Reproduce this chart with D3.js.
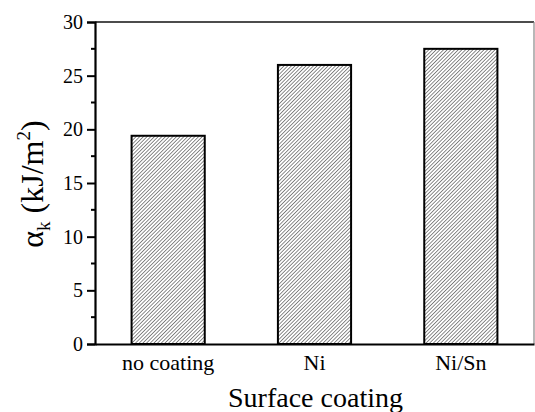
<!DOCTYPE html>
<html>
<head>
<meta charset="utf-8">
<script src="https://cdn.jsdelivr.net/npm/d3@7"></script>
<style>
body { margin: 0; background: #fff; }
svg { display: block; }
svg text { font-family: "Liberation Serif", "Times New Roman", serif; fill: #000; }
</style>
</head>
<body>
<div class="container"></div>
<script>
const categories = ['no coating', 'Ni', 'Ni/Sn'];
const values = [19.4, 26.0, 27.5];
const yTicks = [0, 5, 10, 15, 20, 25, 30];
const yMinor = [2.5, 7.5, 12.5, 17.5, 22.5, 27.5];

const width = 535, height = 412;
const margin = {left: 95, right: 1, top: 22, bottom: 68};

const sx = d3.scaleBand().domain(categories)
	.range([margin.left, width - margin.right])
	.paddingInner(0.5).paddingOuter(0.25);
const sy = d3.scaleLinear().domain([0, 30]).range([height - margin.bottom, margin.top]);

const svg = d3.select('.container').append('svg')
	.attr('width', width).attr('height', height)
	.attr('viewBox', [0, 0, width, height]);

// hatch fill, fine diagonal lines
const pat = svg.append('defs').append('pattern')
	.attr('id', 'hatch')
	.attr('patternUnits', 'userSpaceOnUse')
	.attr('width', 2.6).attr('height', 2.6)
	.attr('patternTransform', 'rotate(45)');
pat.append('rect').attr('width', 2.6).attr('height', 2.6).attr('fill', '#fff');
pat.append('line')
	.attr('x1', 0).attr('y1', 0).attr('x2', 0).attr('y2', 2.6)
	.attr('stroke', '#5a5a5a').attr('stroke-width', 1.4);

// frame top + right
svg.append('line')
	.attr('x1', margin.left).attr('x2', width - margin.right)
	.attr('y1', sy(30)).attr('y2', sy(30))
	.attr('stroke', '#111').attr('stroke-width', 1.5);
svg.append('line')
	.attr('x1', width - margin.right).attr('x2', width - margin.right)
	.attr('y1', sy(30)).attr('y2', sy(0))
	.attr('stroke', '#888').attr('stroke-width', 1.2);

// bars
svg.append('g')
	.selectAll('rect')
	.data(categories)
	.join('rect')
	.attr('x', d => sx(d))
	.attr('y', (d, i) => sy(values[i]))
	.attr('width', sx.bandwidth())
	.attr('height', (d, i) => sy(0) - sy(values[i]))
	.attr('fill', 'url(#hatch)')
	.attr('stroke', '#000')
	.attr('stroke-width', 2);

// y axis
const yAxis = svg.append('g')
	.attr('transform', 'translate(' + margin.left + ',0)')
	.call(d3.axisLeft(sy).tickValues(yTicks).tickSize(8).tickPadding(4));
yAxis.attr('font-family', null);
yAxis.select('.domain').attr('stroke-width', 2.2);
yAxis.selectAll('.tick line').attr('stroke-width', 2);
yAxis.selectAll('.tick text')
	.style('font-family', '"Liberation Serif", serif')
	.style('font-size', '20px');
yAxis.selectAll('.minor')
	.data(yMinor)
	.join('line')
	.attr('class', 'minor')
	.attr('x1', -4).attr('x2', 0)
	.attr('y1', d => sy(d)).attr('y2', d => sy(d))
	.attr('stroke', '#000').attr('stroke-width', 2);

// x axis
const xAxis = svg.append('g')
	.attr('transform', 'translate(0,' + sy(0) + ')')
	.call(d3.axisBottom(sx).tickSize(0).tickPadding(10).tickSizeOuter(0));
xAxis.attr('font-family', null);
xAxis.select('.domain').attr('stroke-width', 2.2);
xAxis.selectAll('.tick text')
	.style('font-size', '22px');

// axis titles
svg.append('text')
	.attr('x', (margin.left + width - margin.right) / 2 + 1)
	.attr('y', 407)
	.attr('text-anchor', 'middle')
	.style('font-size', '28px')
	.text('Surface coating');

const yt = svg.append('text')
	.attr('transform', 'translate(43,' + (sy(15) + 1) + ') rotate(-90)')
	.attr('text-anchor', 'middle')
	.style('font-size', '32px');
yt.append('tspan').text('\u03b1');
yt.append('tspan').style('font-size', '19px').attr('dy', 7).text('k');
yt.append('tspan').attr('dy', -7).text(' (kJ/m');
yt.append('tspan').style('font-size', '19px').attr('dy', -13).text('2');
yt.append('tspan').attr('dy', 13).text(')');
</script>
</body>
</html>
